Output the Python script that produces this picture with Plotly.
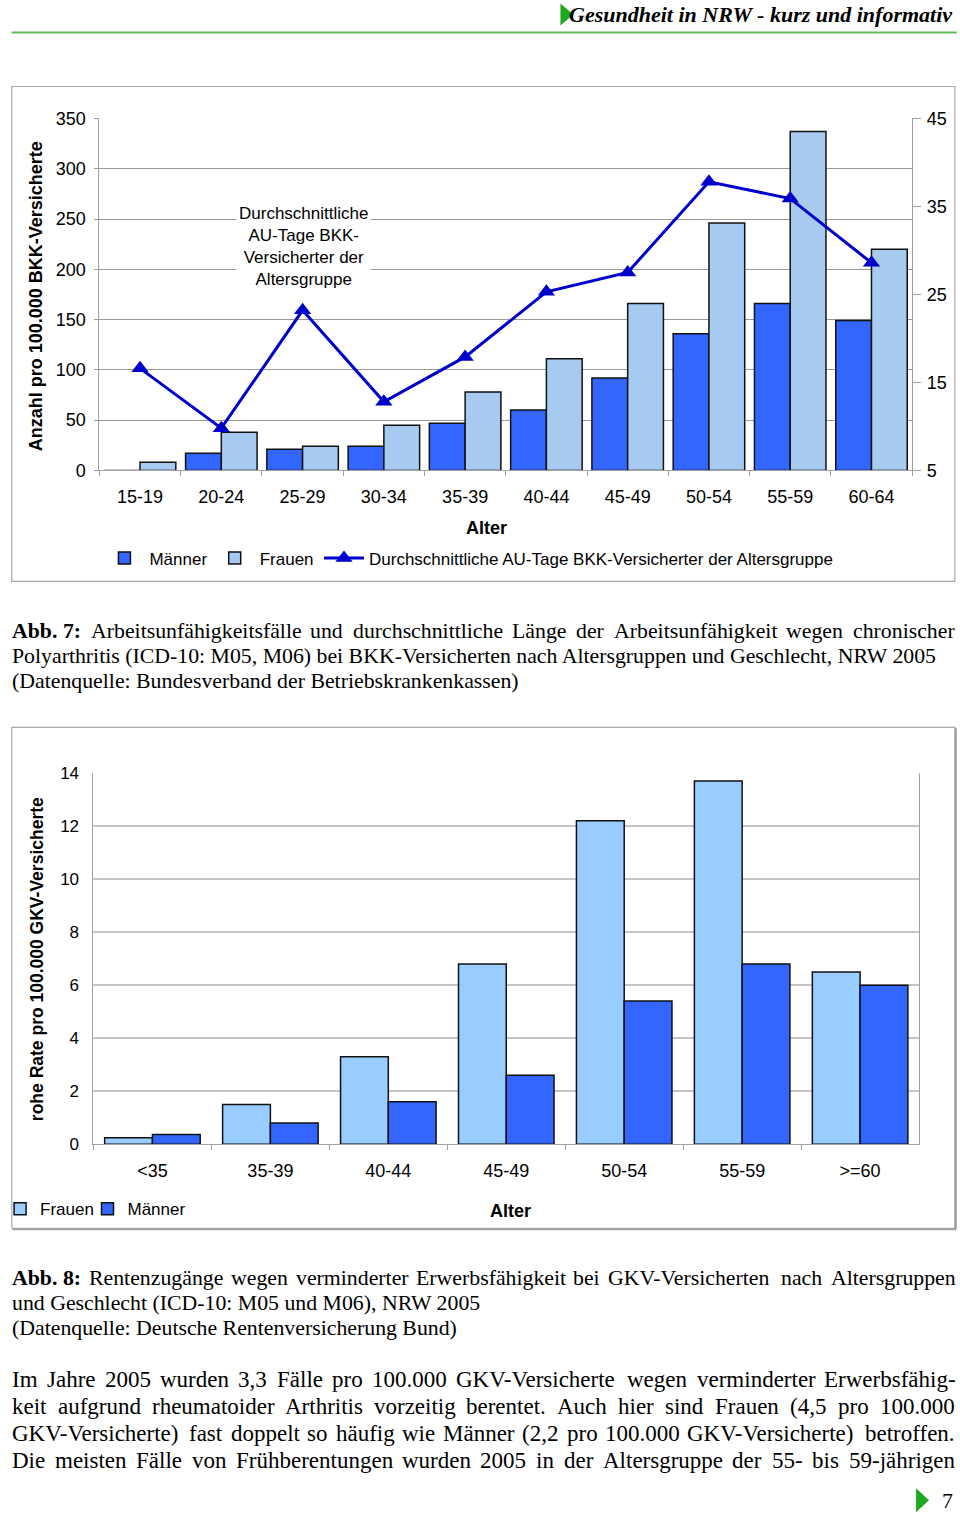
import plotly.graph_objects as go

W, H = 960, 1515

# the photographed page maps figure px (u, v) to picture px (5 + 0.995u, 9.5 + 0.987v);
# positions below are given in picture px and converted back to paper fractions.
SX, OX = 0.995, 5.0
SY, OY = 0.987, 9.5


def fx(x):
    return ((x - OX) / SX) / W


def fy(y):
    return 1 - ((y - OY) / SY) / H


# ---------------- data ----------------
ALTER_BKK = ["15-19", "20-24", "25-29", "30-34", "35-39", "40-44", "45-49", "50-54", "55-59", "60-64"]
MAENNER_BKK = [0, 17, 21, 24, 47, 60, 92, 136, 166, 149]
FRAUEN_BKK = [8, 38, 24, 45, 78, 111, 166, 246, 337, 220]
AU_TAGE = [16.6, 9.8, 23.2, 12.8, 17.9, 25.3, 27.5, 37.8, 35.9, 28.6]
Y1_TICKS = [0, 50, 100, 150, 200, 250, 300, 350]
Y2_TICKS = [5, 15, 25, 35, 45]

ALTER_GKV = ["<35", "35-39", "40-44", "45-49", "50-54", "55-59", ">=60"]
FRAUEN_GKV = [0.25, 1.5, 3.3, 6.8, 12.2, 13.7, 6.5]
MAENNER_GKV = [0.37, 0.8, 1.6, 2.6, 5.4, 6.8, 6.0]
Y3_TICKS = [0, 2, 4, 6, 8, 10, 12, 14]

# ---------------- styles ----------------
C_MAN = "#3366FF"
C_FRAU1 = "#A6CAF0"
C_FRAU2 = "#99CCFF"
C_LINE = "#0000CC"
EDGE = "#111111"
GRID1 = "#9A9A9A"
GRID2 = "#C4C4C4"
AXIS = "#A0A0A0"
GREEN = "#1FA81F"
SANS = "Liberation Sans, Arial, sans-serif"
SERIF = "Liberation Serif, Times New Roman, serif"

fig = go.Figure()

# chart 1 (BKK)
fig.add_trace(go.Bar(x=ALTER_BKK, y=MAENNER_BKK, name="Männer", xaxis="x", yaxis="y",
                     marker=dict(color=C_MAN, line=dict(color=EDGE, width=1.5)), legend="legend"))
fig.add_trace(go.Bar(x=ALTER_BKK, y=FRAUEN_BKK, name="Frauen", xaxis="x", yaxis="y",
                     marker=dict(color=C_FRAU1, line=dict(color=EDGE, width=1.5)), legend="legend3"))
fig.add_trace(go.Scatter(x=ALTER_BKK, y=AU_TAGE, name="Durchschnittliche AU-Tage BKK-Versicherter der Altersgruppe",
                         xaxis="x", yaxis="y2", mode="lines+markers",
                         line=dict(color=C_LINE, width=3),
                         marker=dict(symbol="triangle-up", size=15, color=C_LINE),
                         legend="legend4"))

# chart 2 (GKV)
fig.add_trace(go.Bar(x=ALTER_GKV, y=FRAUEN_GKV, name="Frauen", xaxis="x2", yaxis="y3",
                     width=0.405, offset=-0.405,
                     marker=dict(color=C_FRAU2, line=dict(color=EDGE, width=1.5)), legend="legend2"))
fig.add_trace(go.Bar(x=ALTER_GKV, y=MAENNER_GKV, name="Männer", xaxis="x2", yaxis="y3",
                     width=0.405, offset=0.0,
                     marker=dict(color=C_MAN, line=dict(color=EDGE, width=1.5)), legend="legend5"))

tick_font = dict(family=SANS, size=18, color="black")


def leg(x, y, iw=30):
    return dict(orientation="h", x=fx(x), y=fy(y), xanchor="left", yanchor="middle",
                font=dict(family=SANS, size=17, color="black"), bgcolor="rgba(0,0,0,0)",
                itemwidth=iw, itemclick=False, itemdoubleclick=False, borderwidth=0)


layout = dict(
    width=W, height=H,
    margin=dict(l=0, r=0, t=0, b=0),
    paper_bgcolor="white", plot_bgcolor="white",
    barmode="group", bargap=0.12, bargroupgap=0,
    showlegend=True,
    xaxis=dict(domain=[fx(94), fx(912)], anchor="y", type="category", range=[-0.5, 9.5],
               showline=True, linecolor=AXIS, linewidth=1, ticks="outside", tickson="boundaries",
               ticklen=5, tickcolor=AXIS, tickfont=tick_font, showgrid=False, ticklabelstandoff=10),
    yaxis=dict(domain=[fy(470), fy(118)], range=[0, 350], tickvals=Y1_TICKS, showgrid=True,
               gridcolor=GRID1, gridwidth=1, showline=True, linecolor=AXIS, ticks="outside",
               ticklen=4, tickcolor=AXIS, tickfont=tick_font, zeroline=False, ticklabelstandoff=5),
    yaxis2=dict(overlaying="y", side="right", anchor="x", range=[5, 45], tickvals=Y2_TICKS,
                showgrid=False, showline=True, linecolor=AXIS, ticks="outside", ticklen=8,
                tickcolor=AXIS, tickfont=tick_font, zeroline=False, ticklabelstandoff=2),
    xaxis2=dict(domain=[fx(88), fx(919)], anchor="y3", type="category", range=[-0.5, 6.5],
                showline=True, linecolor=AXIS, linewidth=1, ticks="outside", tickson="boundaries",
                ticklen=5, tickcolor=AXIS, tickfont=tick_font, showgrid=False, ticklabelstandoff=10),
    yaxis3=dict(domain=[fy(1144), fy(772.7)], anchor="x2", range=[0, 14], tickvals=Y3_TICKS,
                showgrid=True, gridcolor=GRID2, gridwidth=1.5, showline=True, mirror=True,
                linecolor=AXIS, ticks="", tickfont=dict(family=SANS, size=17, color="black"),
                zeroline=False, ticklabelstandoff=10),
    legend=leg(94, 558, 40),
    legend3=leg(205, 558, 40),
    legend4=leg(315, 558, 40),
    legend2=leg(-6, 1209),
    legend5=leg(82, 1209),
)
fig.update_layout(**layout)

# ---------------- text helpers ----------------
ann = []


def txt(x, y, s, size, family=SANS, xanchor="left", yanchor="middle", angle=0, bg=None):
    d = dict(xref="paper", yref="paper", x=fx(x), y=fy(y), text=s, showarrow=False,
             xanchor=xanchor, yanchor=yanchor, textangle=angle, borderpad=0,
             font=dict(family=family, size=size, color="black"))
    if bg:
        d["bgcolor"] = bg
        d["borderpad"] = 2
    ann.append(d)


TIMES = {" ": 250, "(": 333, ")": 333, ",": 250, "-": 333, ".": 250, ":": 278,
         "A": 722, "B": 667, "C": 667, "D": 722, "E": 611, "F": 556, "G": 722, "H": 722, "I": 333,
         "J": 389, "K": 722, "L": 611, "M": 889, "N": 722, "O": 722, "P": 556, "Q": 722, "R": 667,
         "S": 556, "T": 611, "U": 722, "V": 722, "W": 944, "X": 722, "Y": 722, "Z": 611,
         "a": 444, "b": 500, "c": 444, "d": 500, "e": 444, "f": 333, "g": 500, "h": 500, "i": 278,
         "j": 278, "k": 500, "l": 278, "m": 778, "n": 500, "o": 500, "p": 500, "q": 500, "r": 333,
         "s": 389, "t": 278, "u": 500, "v": 500, "w": 722, "x": 500, "y": 500, "z": 444,
         "ä": 444, "ö": 500, "ü": 500}
TIMES_BOLD = {"A": 722, "b": 556, ".": 250, " ": 250, ":": 333}


def tw(s, size, bold=False):
    table = TIMES_BOLD if bold else TIMES
    return sum(table.get(ch, 500) for ch in s) * size / 1000.0 * SX


def justified(line, y, size, bold_prefix=None, x0=5, x1=953):
    items = []
    if bold_prefix:
        items.append(("<b>" + bold_prefix + "</b>", tw(bold_prefix, size, True)))
    for w in line.split(" "):
        items.append((w, tw(w, size)))
    total = sum(w for _, w in items)
    gap = (x1 - x0 - total) / (len(items) - 1)
    x = x0
    for t, w in items:
        txt(x, y, t, size, SERIF)
        x += w + gap


# header / footer
txt(953, 14, "<b><i>Gesundheit in NRW - kurz und informativ</i></b>", 22, SERIF, xanchor="right")
txt(948, 1500, "7", 22, SERIF, xanchor="center")

# chart 1 texts
txt(31, 296, "<b>Anzahl pro 100.000 BKK-Versicherte</b>", 18, angle=-90, xanchor="center")
txt(484, 528, "<b>Alter</b>", 18, xanchor="center")
txt(299, 246, "Durchschnittliche<br>AU-Tage BKK-<br>Versicherter der<br>Altersgruppe", 17,
    xanchor="center", bg="white")

# chart 2 texts
txt(31, 959, "<b>rohe Rate pro 100.000 GKV-Versicherte</b>", 17.5, angle=-90, xanchor="center")
txt(508, 1211, "<b>Alter</b>", 18, xanchor="center")

# caption 7
CAP = 21.8
justified("Arbeitsunfähigkeitsfälle und durchschnittliche Länge der Arbeitsunfähigkeit wegen chronischer",
          631, CAP, bold_prefix="Abb. 7:")
txt(5, 656, "Polyarthritis (ICD-10: M05, M06) bei BKK-Versicherten nach Altersgruppen und Geschlecht, NRW 2005",
    CAP, SERIF)
txt(5, 681, "(Datenquelle: Bundesverband der Betriebskrankenkassen)", CAP, SERIF)

# caption 8
justified("Rentenzugänge wegen verminderter Erwerbsfähigkeit bei GKV-Versicherten nach Altersgruppen",
          1278, CAP, bold_prefix="Abb. 8:")
txt(5, 1303, "und Geschlecht (ICD-10: M05 und M06), NRW 2005", CAP, SERIF)
txt(5, 1328, "(Datenquelle: Deutsche Rentenversicherung Bund)", CAP, SERIF)

# body
BODY = 23
justified("Im Jahre 2005 wurden 3,3 Fälle pro 100.000 GKV-Versicherte wegen verminderter Erwerbsfähig-", 1379, BODY)
justified("keit aufgrund rheumatoider Arthritis vorzeitig berentet. Auch hier sind Frauen (4,5 pro 100.000", 1406, BODY)
justified("GKV-Versicherte) fast doppelt so häufig wie Männer (2,2 pro 100.000 GKV-Versicherte) betroffen.", 1433, BODY)
justified("Die meisten Fälle von Frühberentungen wurden 2005 in der Altersgruppe der 55- bis 59-jährigen", 1460, BODY)

fig.update_layout(annotations=ann)


# ---------------- shapes ----------------
def tri(x0, y0, x1, ym, y1):
    return dict(type="path", xref="paper", yref="paper",
                path=f"M {fx(x0)} {fy(y0)} L {fx(x1)} {fy(ym)} L {fx(x0)} {fy(y1)} Z",
                fillcolor=GREEN, line=dict(width=0))


shapes = [
    dict(type="line", xref="paper", yref="paper", x0=fx(5.6), x1=fx(957), y0=fy(32), y1=fy(32),
         line=dict(color="#5DBB5D", width=2)),
    tri(558, 3, 571, 14, 25),
    tri(916, 1488, 929, 1500, 1512),
    dict(type="rect", xref="paper", yref="paper", x0=fx(5.8), x1=fx(955), y0=fy(86), y1=fy(581),
         line=dict(color="#A8A8A8", width=1.2), layer="below"),
    dict(type="rect", xref="paper", yref="paper", x0=fx(5.8), x1=fx(955), y0=fy(727), y1=fy(1228),
         line=dict(color="#A8A8A8", width=1.2), layer="below"),
    dict(type="line", xref="paper", yref="paper", x0=fx(6.5), x1=fx(956), y0=fy(1229), y1=fy(1229),
         line=dict(color="#A0A0A0", width=2)),
    dict(type="line", xref="paper", yref="paper", x0=fx(956), x1=fx(956), y0=fy(728), y1=fy(1229),
         line=dict(color="#A0A0A0", width=2)),
]
fig.update_layout(shapes=shapes)

POST = ("var h=document.documentElement,b=document.body;"
        "h.style.margin='0';h.style.padding='0';h.style.overflow='hidden';"
        "b.style.margin='0';b.style.padding='0';b.style.overflow='hidden';"
        "var d=document.getElementById('{plot_id}');"
        "d.style.position='fixed';d.style.left='0px';d.style.top='0px';d.style.margin='0';"
        "window.scrollTo(0,0);")

fig.write_html("out.html", post_script=POST, config={"displayModeBar": False})
